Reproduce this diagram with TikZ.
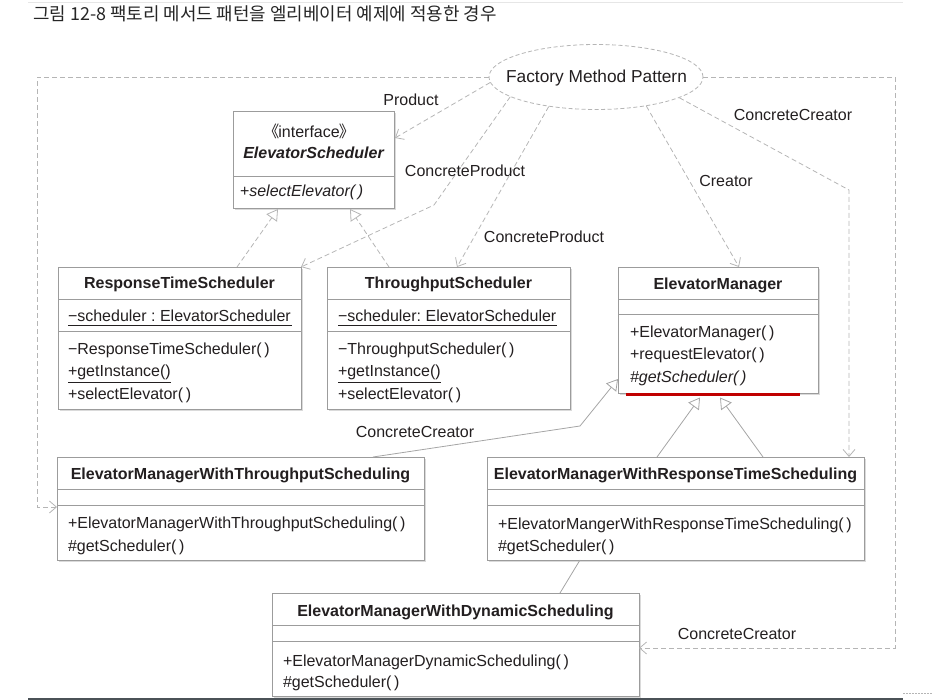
\documentclass[tikz,border=0pt]{standalone}
\usepackage{fontspec}
\setmainfont{Liberation Sans}
\newfontfamily\cjk{Noto Sans CJK KR}
\usetikzlibrary{arrows.meta,calc,shapes.geometric,shadows}
\definecolor{ink}{HTML}{231F20}
\definecolor{boxc}{HTML}{9C9C9C}
\definecolor{dashc}{HTML}{B5B5B5}
\definecolor{genc}{HTML}{A5A5A5}
\definecolor{shadc}{HTML}{DADADA}
\definecolor{redc}{HTML}{C00000}
\definecolor{titlec}{HTML}{262626}
\definecolor{rulec}{HTML}{E6E6E6}
\definecolor{basec}{HTML}{4B5257}
\frenchspacing
\begin{document}
\begin{tikzpicture}[x=1pt,y=-1pt,
  txt/.style={text=ink,inner sep=0pt,outer sep=0pt,font=\fontsize{16}{19}\selectfont},
  mem/.style={txt,anchor=base west},
  cls/.style={txt,anchor=base,font=\fontsize{16}{19}\selectfont\bfseries},
  lbl/.style={txt,anchor=base},
  box/.style={draw=boxc,line width=0.9pt,fill=white,inner sep=0pt,outer sep=0pt,anchor=north west,
    drop shadow={shadow xshift=2pt,shadow yshift=-2pt,fill=shadc,opacity=1}},
  div/.style={draw=boxc,line width=0.9pt},
  uline/.style={draw=ink,line width=0.7pt},
  dep/.style={draw=dashc,line width=0.8pt,dash pattern=on 5pt off 3pt,-{Straight Barb[length=7pt,width=12pt]}},
  real/.style={draw=dashc,line width=0.8pt,dash pattern=on 5pt off 3pt,-{Triangle[length=11pt,width=13pt,fill=white]}},
  gen/.style={draw=genc,line width=0.8pt,-{Triangle[length=11pt,width=13pt,fill=white]}},
  gline/.style={draw=genc,line width=0.8pt},
]
\useasboundingbox (0,0) rectangle (933,700);

% page rules
\draw[rulec,line width=1pt] (28,3) -- (903,3);
\draw[basec,line width=1.6pt] (28,699.2) -- (903,699.2);
\draw[dashc,line width=0.8pt,dash pattern=on 2pt off 1pt] (903,693) -- (933,693);

% title
\node[anchor=base west,inner sep=0pt,text=titlec,font=\cjk\fontsize{17.9}{21}\selectfont] (title) at (33,21)
  {그림 12-8 팩토리 메서드 패턴을 엘리베이터 예제에 적용한 경우};

% pattern ellipse
\node[ellipse,draw=dashc,line width=0.8pt,dash pattern=on 4pt off 2.5pt,fill=white,
  minimum width=214pt,minimum height=65pt,inner sep=0pt] (fmp) at (596,77) {};
\node[txt,anchor=base,font=\fontsize{17.3}{20}\selectfont] (fmpt) at (596.5,83) {Factory Method Pattern};

% interface
\node[box,minimum width=161pt,minimum height=97pt] (iface) at (233,111) {};
\draw[div] ($(iface.north west)+(0,65)$) -- ($(iface.north east)+(0,65)$);
\node[lbl] (ifs) at (313.5,138) {{\cjk\hspace{-0.55em}《}\kern-1pt interface\kern-1pt{\cjk 》\hspace{-0.55em}}};
\node[cls,font=\fontsize{16}{19}\selectfont\bfseries\itshape] (ifn) at (313.5,159) {ElevatorScheduler};
\node[mem] (ifo) at (240,197) {+\textit{selectElevator(\,)}};

% ResponseTimeScheduler
\node[box,minimum width=243pt,minimum height=142pt] (rts) at (58,267) {};
\draw[div] ($(rts.north west)+(0,32)$) -- ($(rts.north east)+(0,32)$);
\draw[div] ($(rts.north west)+(0,64)$) -- ($(rts.north east)+(0,64)$);
\node[cls] (rtsn) at (179.5,288) {ResponseTimeScheduler};
\node[mem] (rtsa) at (68,321.5) {−scheduler : ElevatorScheduler};
\node[mem] (rtsc) at (68,354) {−ResponseTimeScheduler(\,)};
\node[mem] (rtsg) at (68,376) {+getInstance()};
\node[mem] (rtss) at (68,399) {+selectElevator(\,)};
\draw[uline] ($(rtsa.base west)+(0,3.8)$) -- ($(rtsa.base east)+(1,3.8)$);
\draw[uline] ($(rtsg.base west)+(0,6)$) -- ($(rtsg.base east)+(0,6)$);

% ThroughputScheduler
\node[box,minimum width=243pt,minimum height=142pt] (tp) at (327,267) {};
\draw[div] ($(tp.north west)+(0,32)$) -- ($(tp.north east)+(0,32)$);
\draw[div] ($(tp.north west)+(0,64)$) -- ($(tp.north east)+(0,64)$);
\node[cls] (tpn) at (448.5,288) {ThroughputScheduler};
\node[mem] (tpa) at (338,321.5) {−scheduler: ElevatorScheduler};
\node[mem] (tpc) at (338,354) {−ThroughputScheduler(\,)};
\node[mem] (tpg) at (338,376) {+getInstance()};
\node[mem] (tps) at (338,399) {+selectElevator(\,)};
\draw[uline] ($(tpa.base west)+(0,3.8)$) -- ($(tpa.base east)+(1,3.8)$);
\draw[uline] ($(tpg.base west)+(0,6)$) -- ($(tpg.base east)+(0,6)$);

% ElevatorManager
\node[box,minimum width=200pt,minimum height=126pt] (em) at (618,267) {};
\draw[div] ($(em.north west)+(0,32)$) -- ($(em.north east)+(0,32)$);
\draw[div] ($(em.north west)+(0,47)$) -- ($(em.north east)+(0,47)$);
\node[cls] (emn) at (718,289) {ElevatorManager};
\node[mem] (em1) at (630,337.5) {+ElevatorManager(\,)};
\node[mem] (em2) at (630,359.5) {+requestElevator(\,)};
\node[mem] (em3) at (630,382) {\textit{\#getScheduler(\,)}};
\draw[redc,line width=2.6pt] ($(em.south west)+(8,1.7)$) -- ($(em.south west)+(182,1.7)$);

% ElevatorManagerWithThroughputScheduling
\node[box,minimum width=367pt,minimum height=103pt] (emwts) at (57,457) {};
\draw[div] ($(emwts.north west)+(0,32)$) -- ($(emwts.north east)+(0,32)$);
\draw[div] ($(emwts.north west)+(0,48)$) -- ($(emwts.north east)+(0,48)$);
\node[cls] (emwtsn) at (240.5,479) {ElevatorManagerWithThroughputScheduling};
\node[mem] (emwts1) at (68,528.5) {+ElevatorManagerWithThroughputScheduling(\,)};
\node[mem] (emwts2) at (68,551) {\#getScheduler(\,)};

% ElevatorManagerWithResponseTimeScheduling
\node[box,minimum width=377pt,minimum height=103pt] (emwrts) at (487,457) {};
\draw[div] ($(emwrts.north west)+(0,32)$) -- ($(emwrts.north east)+(0,32)$);
\draw[div] ($(emwrts.north west)+(0,48)$) -- ($(emwrts.north east)+(0,48)$);
\node[cls] (emwrtsn) at (675.5,479.5) {ElevatorManagerWithResponseTimeScheduling};
\node[mem] (emwrts1) at (498,529.5) {+ElevatorMangerWithResponseTimeScheduling(\,)};
\node[mem] (emwrts2) at (498,551.5) {\#getScheduler(\,)};

% ElevatorManagerWithDynamicScheduling
\node[box,minimum width=367pt,minimum height=103pt] (emwds) at (272,593) {};
\draw[div] ($(emwds.north west)+(0,32)$) -- ($(emwds.north east)+(0,32)$);
\draw[div] ($(emwds.north west)+(0,48)$) -- ($(emwds.north east)+(0,48)$);
\node[cls] (emwdsn) at (455.5,616.5) {ElevatorManagerWithDynamicScheduling};
\node[mem] (emwds1) at (283,666) {+ElevatorManagerDynamicScheduling(\,)};
\node[mem] (emwds2) at (283,687.5) {\#getScheduler(\,)};

% realizations
\draw[real] ($(rts.north west)+(179,0)$) -- ($(iface.south west)+(45,1)$);
\draw[real] ($(tp.north west)+(62,0)$) -- ($(iface.south west)+(117,1)$);

% generalizations
\coordinate (g1) at (580,426);
\draw[gen] ($(emwts.north west)+(316,0)$) -- (g1) -- ($(em.north west)+(0,112)$);
\draw[gen] ($(emwrts.north west)+(170,0)$) -- ($(em.south west)+(82,4.5)$);
\draw[gen] ($(emwrts.north west)+(276,0)$) -- ($(em.south west)+(102,4.5)$);
\draw[gline] ($(emwds.north west)+(288,0)$) -- ($(emwrts.south west)+(93,0)$);

% pattern role connectors
\draw[dep] (fmp.183) -- ($(iface.north east)+(1,27)$);
\coordinate (b1) at (434,205);
\draw[dep] (fmp.193) -- (b1) -- (rts.north east);
\draw[dep] (fmp.212) -- ($(tp.north west)+(130,0)$);
\draw[dep] (fmp.330) -- ($(em.north west)+(121,0)$);
\coordinate (b2) at (849,190);
\draw[dep] (fmp.346) -- (b2) -- ($(emwrts.north west)+(362,0)$);
\coordinate (c1) at (37,77);
\coordinate (c2) at (37,507);
\draw[dep] (fmp.west) -- (c1) -- (c2) -- ($(emwts.north west)+(0,50)$);
\coordinate (c3) at (895,77);
\coordinate (c4) at (895,648);
\draw[dep] (fmp.east) -- (c3) -- (c4) -- ($(emwds.north east)+(0,55)$);

% role labels
\node[lbl] (lp) at (411,106) {Product};
\node[lbl] (lcp1) at (465,177) {ConcreteProduct};
\node[lbl] (lcp2) at (544,243) {ConcreteProduct};
\node[lbl] (lcr) at (726,187) {Creator};
\node[lbl] (lcc1) at (793,121) {ConcreteCreator};
\node[lbl] (lcc2) at (415,437) {ConcreteCreator};
\node[lbl] (lcc3) at (737,639) {ConcreteCreator};
\end{tikzpicture}
\end{document}
